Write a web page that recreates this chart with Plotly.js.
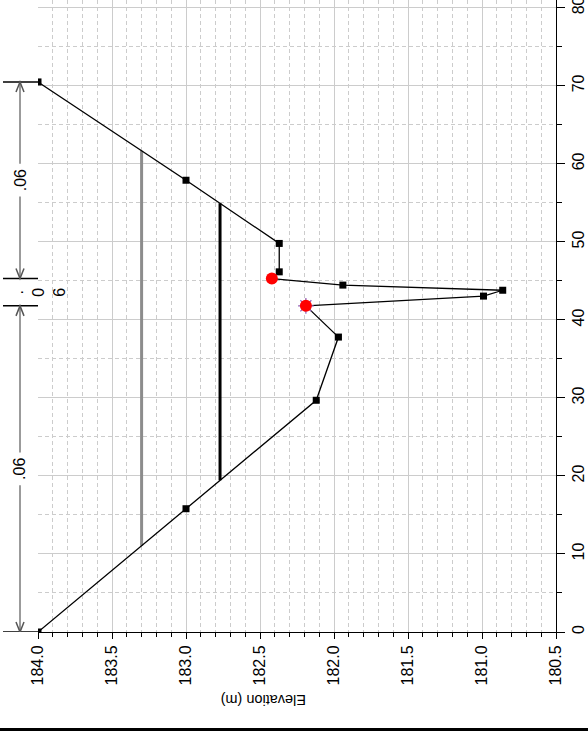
<!DOCTYPE html>
<html>
<head>
<meta charset="utf-8">
<script src="https://cdn.plot.ly/plotly-3.0.1.min.js"></script>
<style>
  html, body { margin: 0; padding: 0; background: #ffffff; }
  #chart { width: 588px; height: 731px; }
</style>
</head>
<body>
<div id="chart"></div>
<script>
// Channel cross-section: surveyed ground profile (station vs. elevation)
const profileStation = [0, 15.8, 29.7, 37.8, 41.8, 43.05, 43.8, 44.46, 45.3, 46.16, 49.8, 57.9, 70.5];
const profileElev    = [184.0, 183.0, 182.12, 181.97, 182.19, 180.99, 180.86, 181.94, 182.42, 182.37, 182.37, 183.0, 184.0];

// Bank points (red)
const bankStation = [41.8, 45.3];
const bankElev    = [182.19, 182.42];

// Water-surface levels: higher one grey, lower one black
const waterElev   = [183.30, 182.77];
const waterColor  = ['#8c8c8c', '#000000'];

// Roughness sub-areas and their Manning n labels
const subareaBounds = [0, 41.8, 45.3, 70.5];
const subareaN      = ['.06', '.06', '.06'];

// Axis ticks
const elevTicks    = [184.0, 183.5, 183.0, 182.5, 182.0, 181.5, 181.0, 180.5];
const elevLabels   = ['184.0', '183.5', '183.0', '182.5', '182.0', '181.5', '181.0', '180.5'];
const stationTicks = [0, 10, 20, 30, 40, 50, 60, 70, 80];
const stationLabels = ['0', '10', '20', '30', '40', '50', '60', '70', '80'];

const FONT = 'Liberation Sans, Arial, sans-serif';

// Station where the profile crosses a given level, scanning from the left or right
function crossing(level, fromRight) {
  const n = profileStation.length;
  const idx = [...Array(n - 1).keys()];
  if (fromRight) idx.reverse();
  for (const i of idx) {
    const e0 = profileElev[i], e1 = profileElev[i + 1];
    if ((e0 - level) * (e1 - level) <= 0 && e0 !== e1) {
      const t = (level - e0) / (e1 - e0);
      return profileStation[i] + t * (profileStation[i + 1] - profileStation[i]);
    }
  }
  return null;
}

const traces = [];

waterElev.forEach((lv, k) => {
  traces.push({
    x: [lv, lv],
    y: [crossing(lv, false), crossing(lv, true)],
    mode: 'lines',
    line: { color: waterColor[k], width: 3 },
    hoverinfo: 'skip'
  });
});

traces.push({
  x: profileElev, y: profileStation,
  mode: 'lines',
  line: { color: '#000000', width: 1.3 },
  hoverinfo: 'skip'
});

const sqX = [], sqY = [];
profileStation.forEach((s, i) => {
  if (!bankStation.includes(s)) { sqX.push(profileElev[i]); sqY.push(s); }
});
traces.push({
  x: sqX, y: sqY, mode: 'markers',
  marker: { symbol: 'square', size: 7, color: '#000000' },
  hoverinfo: 'skip'
});

traces.push({
  x: [bankElev[0]], y: [bankStation[0]], mode: 'markers',
  marker: { symbol: 'asterisk-open', size: 13, line: { color: '#1f3fff', width: 1.3 } },
  hoverinfo: 'skip'
});

traces.push({
  x: bankElev, y: bankStation, mode: 'markers',
  marker: { symbol: 'circle', size: 12, color: '#ff0000' },
  hoverinfo: 'skip'
});

// Dimension lines for the roughness sub-areas, drawn in the left margin
const plotW = 588 - 38 - 32;
const plotH = 731 - 0 - 99;
const dimX = (20 - 38) / plotW;
const tickX0 = (3 - 38) / plotW;
const gap = 2.1;
const shapes = [];
const annotations = [];

subareaBounds.forEach(b => {
  shapes.push({ type: 'line', xref: 'paper', yref: 'y', x0: tickX0, x1: 0, y0: b, y1: b,
                line: { color: '#000000', width: 1.5 } });
});

for (let k = 0; k < subareaN.length; k++) {
  const a = subareaBounds[k], b = subareaBounds[k + 1];
  const mid = (a + b) / 2;
  if (b - a > 10) {
    shapes.push({ type: 'line', xref: 'paper', yref: 'y', x0: dimX, x1: dimX, y0: a, y1: mid - gap,
                  line: { color: '#7a7a7a', width: 1.5 } });
    shapes.push({ type: 'line', xref: 'paper', yref: 'y', x0: dimX, x1: dimX, y0: mid + gap, y1: b,
                  line: { color: '#7a7a7a', width: 1.5 } });
    // arrowheads at both ends
    shapes.push({ type: 'path', xref: 'paper', yref: 'y', xsizemode: 'pixel', ysizemode: 'pixel',
                  xanchor: dimX, yanchor: a, path: 'M-4,10L0,0L4,10',
                  line: { color: '#555555', width: 1.5 } });
    shapes.push({ type: 'path', xref: 'paper', yref: 'y', xsizemode: 'pixel', ysizemode: 'pixel',
                  xanchor: dimX, yanchor: b, path: 'M-4,-10L0,0L4,-10',
                  line: { color: '#555555', width: 1.5 } });
    annotations.push({ xref: 'paper', yref: 'y', x: dimX, y: mid, text: subareaN[k],
                       textangle: -90, showarrow: false, xanchor: 'center', yanchor: 'middle',
                       font: { family: FONT, size: 16, color: '#000000' } });
  } else {
    annotations.push({ xref: 'paper', yref: 'y', x: (38.5 - 38) / plotW, y: mid,
                       text: subareaN[k].split('').join('<br>'),
                       textangle: -90, showarrow: false, xanchor: 'center', yanchor: 'middle',
                       font: { family: FONT, size: 16, color: '#000000' } });
  }
}

// Elevation axis title
annotations.push({ xref: 'paper', yref: 'paper', x: (264 - 38) / plotW, y: -(700 - 632) / plotH,
                   text: 'Elevation (m)', textangle: 180, showarrow: false,
                   xanchor: 'center', yanchor: 'middle',
                   font: { family: FONT, size: 14.5, color: '#000000' } });

// Frame line along the bottom edge
shapes.push({ type: 'line', xref: 'paper', yref: 'paper', x0: -38 / plotW, x1: 550 / plotW,
              y0: -(729.5 - 632) / plotH, y1: -(729.5 - 632) / plotH,
              line: { color: '#000000', width: 3 } });

const layout = {
  width: 588, height: 731,
  margin: { l: 38, r: 32, t: 0, b: 99, pad: 0 },
  paper_bgcolor: '#ffffff', plot_bgcolor: '#ffffff',
  showlegend: false, hovermode: false,
  font: { family: FONT, size: 16, color: '#000000' },
  xaxis: {
    range: [184.0, 180.5], autorange: false,
    tickmode: 'array', tickvals: elevTicks, ticktext: elevLabels,
    tickangle: -90, tickfont: { family: FONT, size: 16, color: '#000000' },
    ticks: 'outside', ticklen: 6, tickwidth: 1, tickcolor: '#000000',
    ticklabeloverflow: 'allow',
    showline: true, linecolor: '#000000', linewidth: 1,
    showgrid: true, gridcolor: '#cccccc', gridwidth: 1, zeroline: false,
    minor: { tickmode: 'linear', tick0: 180.5, dtick: 0.1, ticks: 'outside', ticklen: 4,
             tickcolor: '#000000', showgrid: true, gridcolor: '#cccccc', griddash: '4px,3px', gridwidth: 1 }
  },
  yaxis: {
    side: 'right', range: [0, 81], autorange: false,
    tickmode: 'array', tickvals: stationTicks, ticktext: stationLabels,
    tickangle: -90, tickfont: { family: FONT, size: 16, color: '#000000' },
    ticks: 'outside', ticklen: 8, tickwidth: 1, tickcolor: '#000000',
    ticklabeloverflow: 'allow',
    showline: true, linecolor: '#000000', linewidth: 1,
    showgrid: true, gridcolor: '#cccccc', gridwidth: 1, zeroline: false,
    minor: { tickmode: 'linear', tick0: 0, dtick: 5, ticks: 'outside', ticklen: 5,
             tickcolor: '#000000', showgrid: true, gridcolor: '#cccccc', griddash: '4px,3px', gridwidth: 1 }
  },
  shapes: shapes,
  annotations: annotations
};

Plotly.newPlot('chart', traces, layout, { staticPlot: true, displayModeBar: false });
</script>
</body>
</html>
